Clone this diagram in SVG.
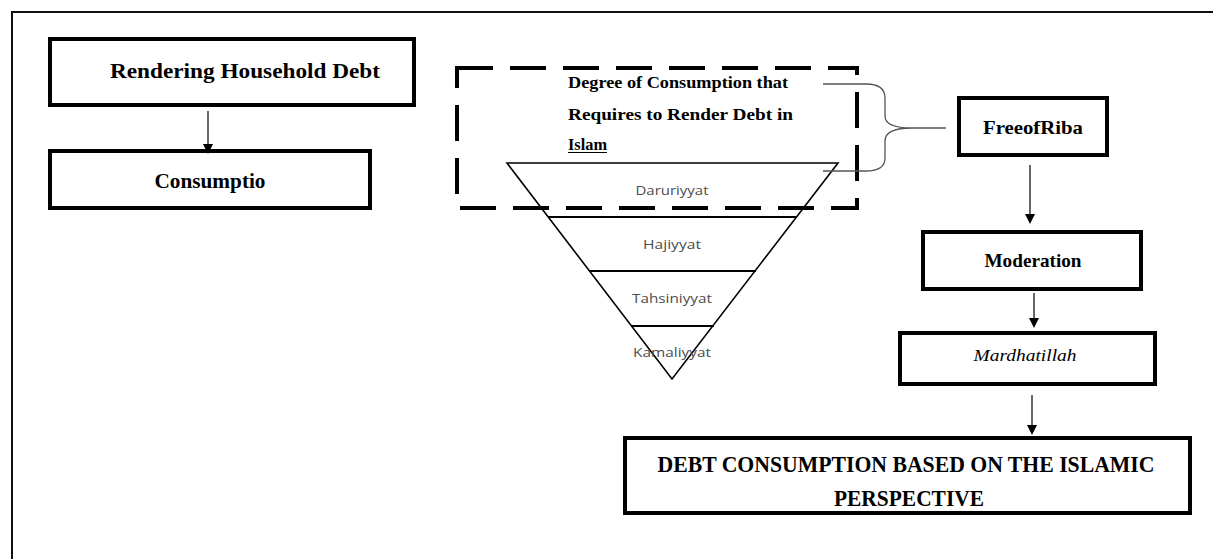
<svg xmlns="http://www.w3.org/2000/svg" width="1213" height="559" viewBox="0 0 1213 559">
  <style>
    .box { fill: #fff; stroke: #000; stroke-width: 4; }
    .bt { font-family: "Liberation Serif", "Times New Roman", serif; font-weight: bold; fill: #000; text-anchor: middle; }
    .tri { font-family: "Open Sans", "Liberation Sans", sans-serif; font-size: 13px; fill: #4d4d4d; text-anchor: middle; }
    .conn { stroke: #333; stroke-width: 1.5; fill: none; }
  </style>
  <defs>
    <marker id="ah" markerWidth="10" markerHeight="10" refX="8" refY="5" orient="auto" markerUnits="userSpaceOnUse" viewBox="0 0 10 10">
      <path d="M0,0 L10,5 L0,10 z" fill="#000"/>
    </marker>
  </defs>
  <rect width="1213" height="559" fill="#fff"/>
  <g id="frame">
    <path d="M12,559 V12 H1213" fill="none" stroke="#111" stroke-width="2"/>
  </g>

  <g id="node-rendering">
    <rect class="box" x="50" y="39" width="364" height="66"/>
    <text class="bt" x="245" y="78" font-size="22" textLength="270" lengthAdjust="spacingAndGlyphs">Rendering Household Debt</text>
  </g>
  <g id="node-consumptio">
    <rect class="box" x="50" y="151" width="320" height="57"/>
    <text class="bt" x="210" y="188" font-size="20" textLength="111" lengthAdjust="spacingAndGlyphs">Consumptio</text>
  </g>

  <g id="pyramid">
    <polygon points="507,163 838,163 672,379" fill="#fff" stroke="#000" stroke-width="1.6"/>
    <line x1="548" y1="217" x2="797" y2="217" stroke="#000" stroke-width="2"/>
    <line x1="589" y1="271" x2="756" y2="271" stroke="#000" stroke-width="2"/>
    <line x1="631" y1="326" x2="714" y2="326" stroke="#000" stroke-width="2"/>
    <text class="tri" x="672" y="195" textLength="73" lengthAdjust="spacingAndGlyphs">Daruriyyat</text>
    <text class="tri" x="672" y="249" textLength="58" lengthAdjust="spacingAndGlyphs">Hajiyyat</text>
    <text class="tri" x="672" y="303" textLength="80" lengthAdjust="spacingAndGlyphs">Tahsiniyyat</text>
    <text class="tri" x="672" y="357" textLength="78" lengthAdjust="spacingAndGlyphs">Kamaliyyat</text>
  </g>

  <g id="node-degree">
    <rect x="457" y="68" width="400" height="140" fill="none" stroke="#000" stroke-width="4" stroke-dasharray="36 17"/>
    <g font-family="Liberation Serif, Times New Roman, serif" font-weight="bold" font-size="17" fill="#000">
      <text x="568" y="88" textLength="220" lengthAdjust="spacingAndGlyphs">Degree of Consumption that</text>
      <text x="568" y="120" textLength="225" lengthAdjust="spacingAndGlyphs">Requires to Render Debt in</text>
      <text x="568" y="150" textLength="39" lengthAdjust="spacingAndGlyphs">Islam</text>
    </g>
    <line x1="568" y1="152.5" x2="607" y2="152.5" stroke="#000" stroke-width="1"/>
  </g>

  <g id="node-free">
    <rect class="box" x="959" y="98" width="148" height="57"/>
    <text class="bt" x="1033" y="134" font-size="19" textLength="100" lengthAdjust="spacingAndGlyphs">FreeofRiba</text>
  </g>
  <g id="node-moderation">
    <rect class="box" x="923" y="232" width="218" height="57"/>
    <text class="bt" x="1033" y="267" font-size="19" textLength="97" lengthAdjust="spacingAndGlyphs">Moderation</text>
  </g>
  <g id="node-mardhatillah">
    <rect class="box" x="900" y="333" width="255" height="51"/>
    <text x="1025" y="361" font-family="Liberation Serif, Times New Roman, serif" font-style="italic" font-size="17" text-anchor="middle" textLength="103" lengthAdjust="spacingAndGlyphs">Mardhatillah</text>
  </g>
  <g id="node-debt">
    <rect class="box" x="625" y="438" width="565" height="75"/>
    <text class="bt" x="906" y="472" font-size="24" textLength="497" lengthAdjust="spacingAndGlyphs">DEBT CONSUMPTION BASED ON THE ISLAMIC</text>
    <text class="bt" x="909" y="506" font-size="24" textLength="150" lengthAdjust="spacingAndGlyphs">PERSPECTIVE</text>
  </g>

  <g id="connectors">
    <line class="conn" x1="208" y1="111" x2="208" y2="152" marker-end="url(#ah)"/>
    <line class="conn" x1="1030" y1="165" x2="1030" y2="222" marker-end="url(#ah)"/>
    <line class="conn" x1="1034" y1="293" x2="1034" y2="326" marker-end="url(#ah)"/>
    <line class="conn" x1="1032" y1="395" x2="1032" y2="433" marker-end="url(#ah)"/>
    <path d="M823,84 H866 Q885,84 885,98 V116 Q885,128 912,128 H946 M912,128 Q885,128 885,141 V158 Q885,171 866,171 H823" fill="none" stroke="#555" stroke-width="1.3"/>
  </g>
</svg>
